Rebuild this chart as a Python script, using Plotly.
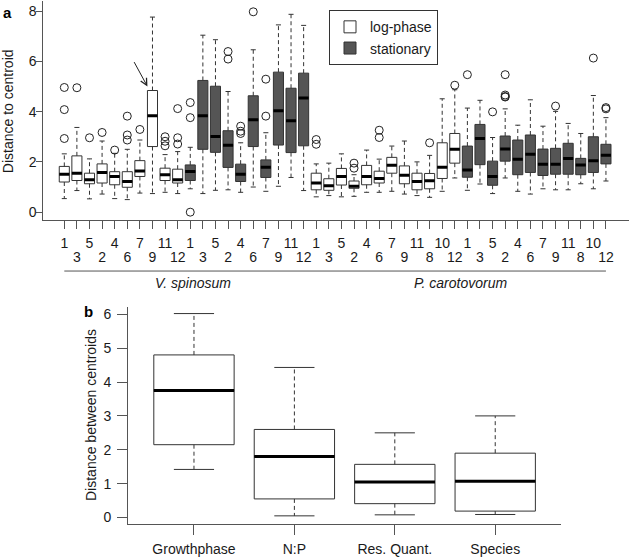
import plotly.graph_objects as go

# ---------------- Panel a data ----------------
treatments = [1, 3, 5, 2, 4, 6, 7, 9, 11, 12] * 2 + [1, 3, 5, 2, 4, 6, 7, 9, 11, 8, 10, 12] * 2
phase = ["log"] * 10 + ["stat"] * 10 + ["log"] * 12 + ["stat"] * 12
species = ["V. spinosum", "P. carotovorum"]

upper = [2.32, 3.37, 2.12, 2.83, 2.34, 2.50, 2.87, 7.76, 2.29, 2.41,
         2.58, 7.04, 6.86, 4.80, 2.76, 6.46, 3.16, 7.45, 7.87, 7.43,
         1.92, 1.95, 2.32, 1.49, 2.47, 2.11, 2.63, 2.83, 2.00, 2.26, 4.51, 4.87,
         4.14, 4.45, 2.97, 4.11, 3.46, 4.47, 3.42, 4.01, 3.53, 3.13, 4.64, 3.76]
q3 = [1.82, 2.24, 1.55, 1.92, 1.61, 1.61, 2.05, 4.84, 1.75, 1.71,
      1.88, 5.24, 5.01, 3.24, 1.91, 4.63, 2.08, 5.57, 4.93, 5.53,
      1.55, 1.33, 1.74, 1.24, 1.86, 1.63, 2.18, 1.84, 1.55, 1.54, 2.76, 3.13,
      2.63, 3.49, 2.03, 3.03, 2.87, 3.07, 2.51, 2.54, 2.74, 2.14, 3.00, 2.70]
median = [1.51, 1.55, 1.29, 1.58, 1.42, 1.22, 1.64, 3.84, 1.49, 1.29,
          1.62, 3.84, 3.01, 2.66, 1.51, 3.68, 1.79, 4.03, 3.64, 4.54,
          1.16, 1.05, 1.42, 1.03, 1.42, 1.34, 1.87, 1.47, 1.22, 1.25, 1.79, 2.50,
          1.68, 2.93, 1.42, 2.51, 2.11, 2.30, 1.91, 1.91, 2.13, 1.88, 2.05, 2.26]
q1 = [1.20, 1.26, 1.13, 1.16, 1.09, 0.99, 1.42, 2.61, 1.26, 1.16,
      1.26, 2.50, 2.38, 1.78, 1.22, 2.61, 1.38, 2.67, 2.37, 2.64,
      0.89, 0.87, 1.08, 0.95, 1.09, 1.16, 1.55, 1.13, 0.89, 0.93, 1.34, 1.95,
      1.39, 1.89, 1.07, 2.03, 1.49, 1.58, 1.46, 1.51, 1.51, 1.49, 1.58, 1.92]
lower = [0.54, 0.86, 0.53, 0.72, 0.54, 0.50, 0.76, 0.74, 0.79, 0.74,
         0.93, 0.74, 0.87, 0.89, 0.79, 1.00, 0.83, 1.03, 1.38, 0.86,
         0.61, 0.66, 0.61, 0.63, 0.79, 0.79, 0.83, 0.72, 0.66, 0.59, 0.83, 1.36,
         0.87, 1.12, 0.74, 1.36, 0.83, 0.72, 0.93, 0.89, 0.89, 1.13, 0.93, 1.24]

outlier_box = [1, 1, 1, 2, 3, 4, 5, 6, 6, 6, 7, 9, 9, 9, 10, 10, 10, 11, 11, 11,
               14, 14, 15, 15, 15, 16, 17, 17, 21, 21, 24, 24, 26, 26, 30, 32,
               33, 35, 36, 36, 36, 36, 40, 43, 44, 44]
outlier_value = [4.96, 4.08, 2.93, 4.95, 2.96, 3.17, 2.47, 3.82, 3.07, 2.87, 3.29,
                 3.00, 2.82, 2.64, 4.12, 2.96, 2.71, 4.36, 3.76, 0.00,
                 6.39, 6.09, 3.42, 3.22, 3.13, 7.97, 5.29, 3.82, 2.89, 2.70,
                 1.95, 1.75, 3.26, 2.97, 2.76, 5.05, 5.47, 3.99, 5.47, 4.66, 4.60, 4.58,
                 4.22, 6.13, 4.16, 4.11]

# ---------------- Panel b data ----------------
b_categories = ["Growthphase", "N:P", "Res. Quant.", "Species"]
b_upper = [6.02, 4.43, 2.50, 3.00]
b_q3 = [4.80, 2.60, 1.57, 1.90]
b_median = [3.75, 1.80, 1.05, 1.07]
b_q1 = [2.15, 0.55, 0.41, 0.19]
b_lower = [1.42, 0.05, 0.08, 0.09]

# ---------------- styles ----------------
FONT = "Liberation Sans, Arial, Helvetica, sans-serif"
TXT = "#1a1a1a"
AX = "#555555"
EDGE = "#333333"
DARK = "#555555"
W, H = 629, 557

positions = list(range(1, len(treatments) + 1))
b_positions = list(range(1, len(b_categories) + 1))


def segs(xs0, xs1, ys0, ys1):
    X, Y = [], []
    for a, b, c, d in zip(xs0, xs1, ys0, ys1):
        X += [a, b, None]
        Y += [c, d, None]
    return X, Y


def add_boxplot(fig, pos, lo, a1, med, a3, hi, groups, xa, ya, legend):
    half, cap = 0.4, 0.2
    wx, wy = segs(pos + pos, pos + pos, a3 + a1, hi + lo)
    fig.add_trace(go.Scatter(x=wx, y=wy, mode="lines", xaxis=xa, yaxis=ya,
                             line=dict(color=EDGE, width=1, dash="4px,3px"),
                             showlegend=False, hoverinfo="skip"))
    cx, cy = segs([p - cap for p in pos] * 2, [p + cap for p in pos] * 2, hi + lo, hi + lo)
    fig.add_trace(go.Scatter(x=cx, y=cy, mode="lines", xaxis=xa, yaxis=ya,
                             line=dict(color=EDGE, width=1),
                             showlegend=False, hoverinfo="skip"))
    for test, fill, name in groups:
        idx = [i for i in range(len(pos)) if test(i)]
        fig.add_trace(go.Box(
            x=[pos[i] for i in idx], q1=[a1[i] for i in idx],
            median=[med[i] for i in idx], q3=[a3[i] for i in idx],
            lowerfence=[a1[i] for i in idx], upperfence=[a3[i] for i in idx],
            width=2 * half, whiskerwidth=0, fillcolor=fill,
            line=dict(color=EDGE, width=1), name=name, showlegend=legend,
            boxpoints=False, xaxis=xa, yaxis=ya, hoverinfo="skip"))
    mx, my = segs([p - half for p in pos], [p + half for p in pos], med, med)
    fig.add_trace(go.Scatter(x=mx, y=my, mode="lines", xaxis=xa, yaxis=ya,
                             line=dict(color="black", width=3),
                             showlegend=False, hoverinfo="skip"))


fig = go.Figure()

add_boxplot(fig, positions, lower, q1, median, q3, upper,
            [(lambda i: phase[i] == "log", "white", "log-phase"),
             (lambda i: phase[i] == "stat", DARK, "stationary")],
            "x", "y", True)

fig.add_trace(go.Scatter(x=[positions[b - 1] for b in outlier_box], y=outlier_value,
                         mode="markers", xaxis="x", yaxis="y",
                         marker=dict(symbol="circle-open", size=8, color="#222222",
                                     line=dict(width=1)),
                         showlegend=False, hoverinfo="skip"))

# helper trace so the second label row axis is drawn
even_pos = positions[1::2]
fig.add_trace(go.Scatter(x=even_pos, y=[median[p - 1] for p in even_pos], mode="markers",
                         marker=dict(opacity=0), xaxis="x3", yaxis="y",
                         showlegend=False, hoverinfo="skip"))

add_boxplot(fig, b_positions, b_lower, b_q1, b_median, b_q3, b_upper,
            [(lambda i: True, "white", "b")], "x2", "y2", False)

# ---------------- layout ----------------
xa_l = 43.3 / W
xr = [-0.667, 45.83]
ya_dom = [1 - 220.7 / H, 1.0]
tickfont = dict(family=FONT, size=14, color=TXT)

fig.update_layout(
    width=W, height=H, margin=dict(l=0, r=0, t=0, b=0),
    paper_bgcolor="white", plot_bgcolor="white",
    font=dict(family=FONT, size=14, color=TXT),
    showlegend=True,
    legend=dict(x=329 / W, y=1 - 9.3 / H, xanchor="left", yanchor="top",
                bordercolor=EDGE, borderwidth=1, bgcolor="white",
                font=dict(family=FONT, size=14, color=TXT)),
    xaxis=dict(domain=[xa_l, 1.0], anchor="y", range=xr, showgrid=False, zeroline=False,
               showline=True, linecolor=AX, linewidth=1,
               tickmode="array", tickvals=positions[0::2],
               ticktext=[str(t) for t in treatments[0::2]],
               ticks="outside", ticklen=8, tickcolor=AX, tickfont=tickfont,
               ticklabelstandoff=2),
    xaxis3=dict(domain=[xa_l, 1.0], anchor="y", overlaying="x", range=xr,
                showgrid=False, zeroline=False, showline=False,
                tickmode="array", tickvals=positions[1::2],
                ticktext=[str(t) for t in treatments[1::2]],
                ticks="outside", ticklen=8, tickcolor=AX, tickfont=tickfont,
                ticklabelstandoff=16),
    yaxis=dict(domain=ya_dom, anchor="x", range=[-0.316, 8.40], showgrid=False,
               zeroline=False, showline=True, linecolor=AX, linewidth=1,
               tickmode="array", tickvals=[0, 2, 4, 6, 8],
               ticks="outside", ticklen=6, tickcolor=AX, tickfont=tickfont,
               ticklabelstandoff=-3),
    xaxis2=dict(domain=[128 / W, 561 / W], anchor="y2", range=[0.343, 4.655],
                showgrid=False, zeroline=False, showline=True, linecolor=AX, linewidth=1,
                tickmode="array", tickvals=b_positions, ticktext=b_categories,
                ticks="outside", ticklen=10, tickcolor=AX, tickfont=tickfont,
                ticklabelstandoff=2),
    yaxis2=dict(domain=[1 - 526.7 / H, 1 - 308 / H], anchor="x2", range=[-0.188, 6.22],
                showgrid=False, zeroline=False, showline=True, linecolor=AX, linewidth=1,
                tickmode="array", tickvals=[0, 1, 2, 3, 4, 5, 6],
                ticks="outside", ticklen=10, tickcolor=AX, tickfont=tickfont,
                ticklabelstandoff=3),
)

shapes = [dict(type="line", xref="x", yref="paper",
               x0=positions[0], x1=positions[-1],
               y0=1 - 272 / H, y1=1 - 272 / H, line=dict(color=AX, width=1))]
annotations = []
label_x = [11.2, 32.45]
for name, lx in zip(species, label_x):
    annotations.append(dict(text="<i>%s</i>" % name, xref="x", yref="paper",
                            x=lx, y=1 - 284.3 / H, showarrow=False,
                            xanchor="center", yanchor="middle",
                            font=dict(family=FONT, size=14, color=TXT)))

annotations.append(dict(text="Distance to centroid", xref="paper", yref="paper",
                        x=8 / W, y=1 - 111 / H, textangle=-90, showarrow=False,
                        xanchor="center", yanchor="middle",
                        font=dict(family=FONT, size=14, color=TXT)))
annotations.append(dict(text="Distance between centroids", xref="paper", yref="paper",
                        x=91 / W, y=1 - 417 / H, textangle=-90, showarrow=False,
                        xanchor="center", yanchor="middle",
                        font=dict(family=FONT, size=14, color=TXT)))
annotations.append(dict(text="<b>a</b>", xref="paper", yref="paper",
                        x=1 / W, y=1 - 1 / H, showarrow=False,
                        xanchor="left", yanchor="top",
                        font=dict(family=FONT, size=15, color="black")))
annotations.append(dict(text="<b>b</b>", xref="paper", yref="paper",
                        x=88 / W, y=1 - 313 / H, showarrow=False,
                        xanchor="center", yanchor="middle",
                        font=dict(family=FONT, size=15, color="black")))

annotations.append(dict(text="", xref="x", yref="y", x=7.6, y=5.0,
                        axref="x", ayref="y", ax=6.48, ay=6.03,
                        showarrow=True, arrowhead=5, arrowsize=1.3, arrowwidth=1,
                        arrowcolor="#222222"))

fig.update_layout(shapes=shapes, annotations=annotations)

fig.write_html("out.html", config={"displayModeBar": False})

# remove the browser's default page margin so the figure sits at the window origin
with open("out.html", "r", encoding="utf-8") as f:
    html = f.read()
html = html.replace("<body>", '<body style="margin:0;padding:0;">', 1)
with open("out.html", "w", encoding="utf-8") as f:
    f.write(html)
